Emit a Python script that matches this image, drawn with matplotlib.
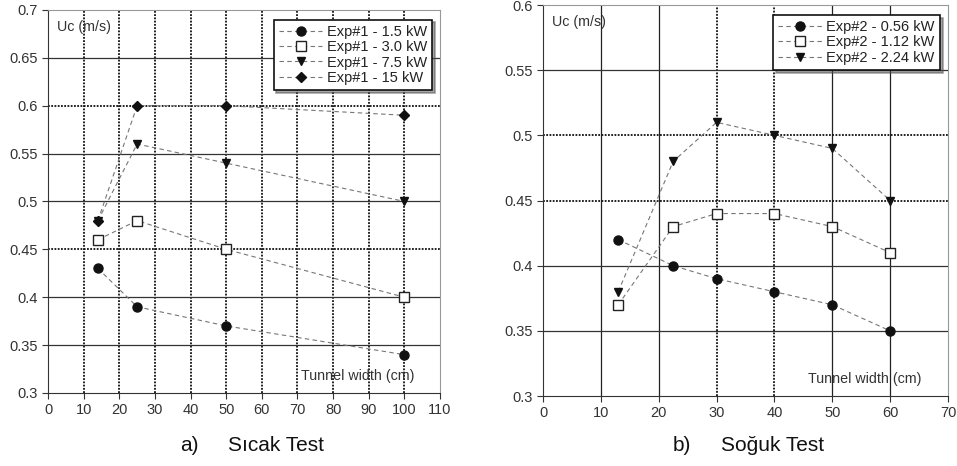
import matplotlib.pyplot as plt

plt.rcParams["font.family"] = ["Liberation Sans", "DejaVu Sans"]

# Hot test (Exp#1): tunnel width vs critical velocity
hot_width = [14, 25, 50, 100]
hot_labels = ["Exp#1 - 1.5 kW", "Exp#1 - 3.0 kW", "Exp#1 - 7.5 kW", "Exp#1 - 15 kW"]
hot_uc = [
    [0.43, 0.39, 0.37, 0.34],
    [0.46, 0.48, 0.45, 0.40],
    [0.48, 0.56, 0.54, 0.50],
    [0.48, 0.60, 0.60, 0.59],
]

# Cold test (Exp#2)
cold_width = [13, 22.5, 30, 40, 50, 60]
cold_labels = ["Exp#2 - 0.56 kW", "Exp#2 - 1.12 kW", "Exp#2 - 2.24 kW"]
cold_uc = [
    [0.42, 0.40, 0.39, 0.38, 0.37, 0.35],
    [0.37, 0.43, 0.44, 0.44, 0.43, 0.41],
    [0.38, 0.48, 0.51, 0.50, 0.49, 0.45],
]

hot_xticks = list(range(0, 111, 10))
hot_yticks = [0.3, 0.35, 0.4, 0.45, 0.5, 0.55, 0.6, 0.65, 0.7]
cold_xticks = list(range(0, 71, 10))
cold_yticks = [0.3, 0.35, 0.4, 0.45, 0.5, 0.55, 0.6]

MARKERS = [
    dict(marker="o", mfc="#111111", mec="#111111", ms=6.5),
    dict(marker="s", mfc="white", mec="#222222", ms=6.5, mew=1.0),
    dict(marker="v", mfc="#111111", mec="#111111", ms=6),
    dict(marker="D", mfc="#111111", mec="#111111", ms=4.8),
]
DOTTED = (0, (1, 0.8))


def draw_panel(ax, x, series, labels, xticks, yticks,
               solid_x, dotted_x, solid_y, dotted_y, legend_anchor):
    ax.set_xlim(xticks[0], xticks[-1])
    ax.set_ylim(yticks[0], yticks[-1])

    # grid: mix of solid and dotted lines
    for v in solid_x:
        ax.axvline(v, color="#222222", lw=0.9, zorder=1)
    for v in dotted_x:
        ax.axvline(v, color="#111111", lw=1.3, ls=DOTTED, zorder=1)
    for v in solid_y:
        ax.axhline(v, color="#333333", lw=0.9, zorder=1)
    for v in dotted_y:
        ax.axhline(v, color="#111111", lw=1.3, ls=DOTTED, zorder=1)

    for y, lab, mk in zip(series, labels, MARKERS):
        ax.plot(x, y, ls=(0, (4, 3)), color="#777777", lw=0.8,
                label=lab, zorder=3, **mk)

    ax.set_xticks(xticks)
    ax.set_yticks(yticks)
    ax.set_yticklabels([f"{v:g}" for v in yticks])
    ax.tick_params(direction="out", length=4, width=0.8, labelsize=10.5,
                   labelcolor="#333333", color="#333333")
    for side in ("left", "bottom"):
        ax.spines[side].set_color("#333333")
    for side in ("top", "right"):
        ax.spines[side].set_color("#999999")

    ax.text(0.022, 0.975, "Uc (m/s)", transform=ax.transAxes,
            ha="left", va="top", fontsize=10.3, color="#333333")
    ax.text(0.934, 0.025, "Tunnel width (cm)", transform=ax.transAxes,
            ha="right", va="bottom", fontsize=10.3, color="#333333")

    leg = ax.legend(loc="upper right", bbox_to_anchor=legend_anchor,
                    frameon=True, fancybox=False, shadow=True,
                    edgecolor="#111111", framealpha=1, fontsize=10.5,
                    handlelength=3.0, handletextpad=0.3, labelspacing=0.1,
                    borderpad=0.35, borderaxespad=0)
    leg.get_frame().set_linewidth(1.2)
    for t in leg.get_texts():
        t.set_color("#222222")


fig = plt.figure(figsize=(9.57, 4.66), dpi=100)

ax1 = fig.add_axes([0.0502, 0.1567, 0.4096, 0.822])
draw_panel(ax1, hot_width, hot_uc, hot_labels, hot_xticks, hot_yticks,
           solid_x=[], dotted_x=hot_xticks[1:-1],
           solid_y=[0.35, 0.4, 0.5, 0.55, 0.65], dotted_y=[0.45, 0.6],
           legend_anchor=(0.98, 0.975))

ax2 = fig.add_axes([0.5674, 0.1502, 0.4232, 0.839])
draw_panel(ax2, cold_width, cold_uc, cold_labels, cold_xticks, cold_yticks,
           solid_x=[10, 20, 50, 60], dotted_x=[30, 40],
           solid_y=[0.35, 0.4, 0.55], dotted_y=[0.45, 0.5],
           legend_anchor=(0.98, 0.975))

# panel captions
fig.text(180 / 957, 0.043, "a)", ha="left", va="center",
         fontsize=15, color="#111111")
fig.text(228 / 957, 0.043, "Sıcak Test", ha="left", va="center",
         fontsize=15, color="#111111")
fig.text(673 / 957, 0.043, "b)", ha="left", va="center",
         fontsize=15, color="#111111")
fig.text(721 / 957, 0.043, "Soğuk Test", ha="left", va="center",
         fontsize=15, color="#111111")

fig.savefig("out.png", dpi=100)
